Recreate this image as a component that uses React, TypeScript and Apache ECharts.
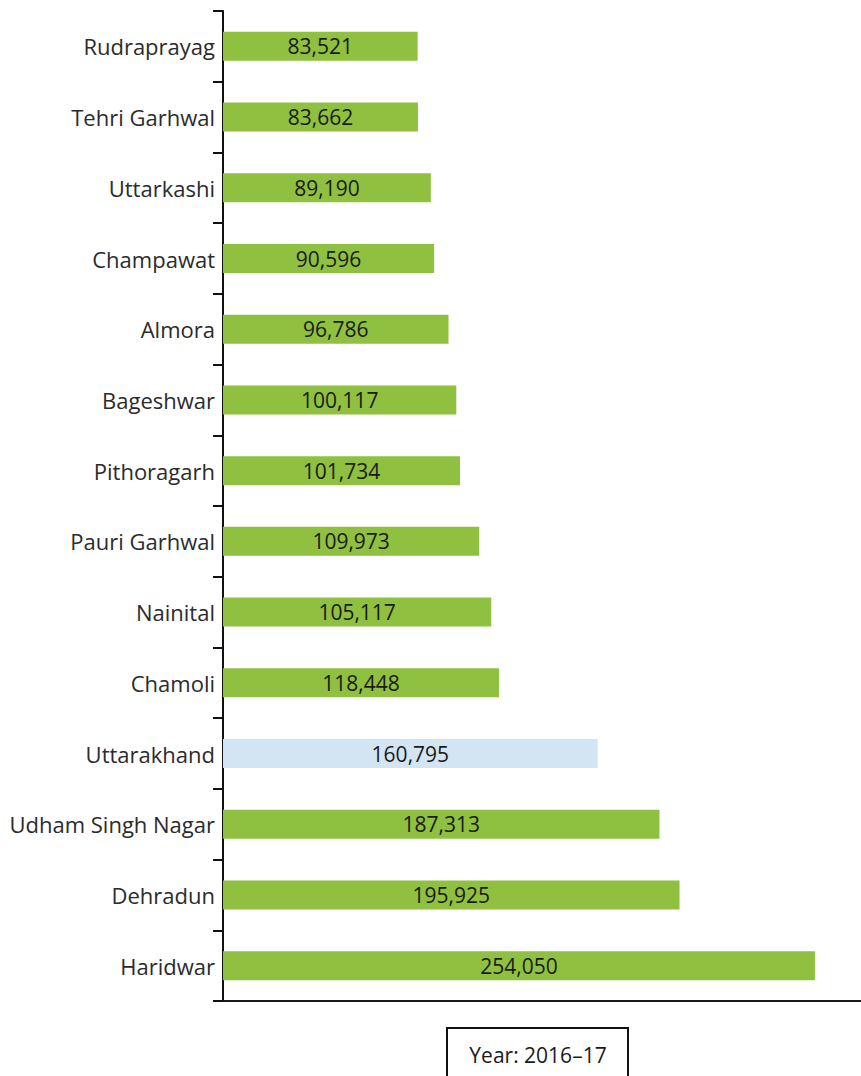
import React, { useEffect, useRef } from "react";
import * as echarts from "echarts";

const categories = [
  "Rudraprayag",
  "Tehri Garhwal",
  "Uttarkashi",
  "Champawat",
  "Almora",
  "Bageshwar",
  "Pithoragarh",
  "Pauri Garhwal",
  "Nainital",
  "Chamoli",
  "Uttarakhand",
  "Udham Singh Nagar",
  "Dehradun",
  "Haridwar",
];

// bar lengths as drawn
const values = [
  83521, 83662, 89190, 90596, 96786, 100117, 101734, 109973, 115117, 118448,
  160795, 187313, 195925, 254050,
];

// value labels as printed on the bars
const valueLabels = [
  "83,521",
  "83,662",
  "89,190",
  "90,596",
  "96,786",
  "100,117",
  "101,734",
  "109,973",
  "105,117",
  "118,448",
  "160,795",
  "187,313",
  "195,925",
  "254,050",
];

const highlight = "Uttarakhand";
const yearLabel = "Year: 2016–17";

const FONT = "'Open Sans', 'Noto Sans', sans-serif";

export default function App() {
  const ref = useRef<HTMLDivElement>(null);

  useEffect(() => {
    document.body.style.margin = "0";
    if (!ref.current) return;
    const chart = echarts.init(ref.current, null, { renderer: "svg" });
    chart.setOption({
      animation: false,
      backgroundColor: "#ffffff",
      grid: { left: 223, top: 11, right: 0, height: 990, containLabel: false },
      xAxis: {
        type: "value",
        min: 0,
        max: 273800,
        axisLine: { show: true, lineStyle: { color: "#1a1a1a", width: 2 } },
        axisTick: { show: false },
        axisLabel: { show: false },
        splitLine: { show: false },
      },
      yAxis: {
        type: "category",
        data: categories,
        inverse: true,
        axisLine: { show: true, lineStyle: { color: "#111111", width: 2 } },
        axisTick: { show: true, length: 10, lineStyle: { color: "#111111", width: 2 } },
        axisLabel: {
          color: "#2b2b2b",
          fontSize: 22,
          fontFamily: FONT,
          margin: 8,
        },
      },
      series: [
        {
          type: "bar",
          barWidth: 29,
          data: values.map((v, i) => ({
            value: v,
            itemStyle: { color: categories[i] === highlight ? "#d3e5f3" : "#8fc03f" },
          })),
          label: {
            show: true,
            position: "inside",
            color: "#1a1a1a",
            fontSize: 21,
            fontFamily: FONT,
            formatter: (p: any) => valueLabels[p.dataIndex],
          },
        },
      ],
      graphic: [
        {
          type: "rect",
          shape: { x: 447, y: 1028, width: 181, height: 60 },
          style: { fill: "#ffffff", stroke: "#111111", lineWidth: 2 },
        },
        {
          type: "text",
          x: 538,
          y: 1055,
          style: {
            text: yearLabel,
            fill: "#1a1a1a",
            fontSize: 21,
            fontFamily: FONT,
            align: "center",
            verticalAlign: "middle",
          },
        },
      ],
    });
    return () => chart.dispose();
  }, []);

  return <div ref={ref} style={{ width: 861, height: 1076 }} />;
}
